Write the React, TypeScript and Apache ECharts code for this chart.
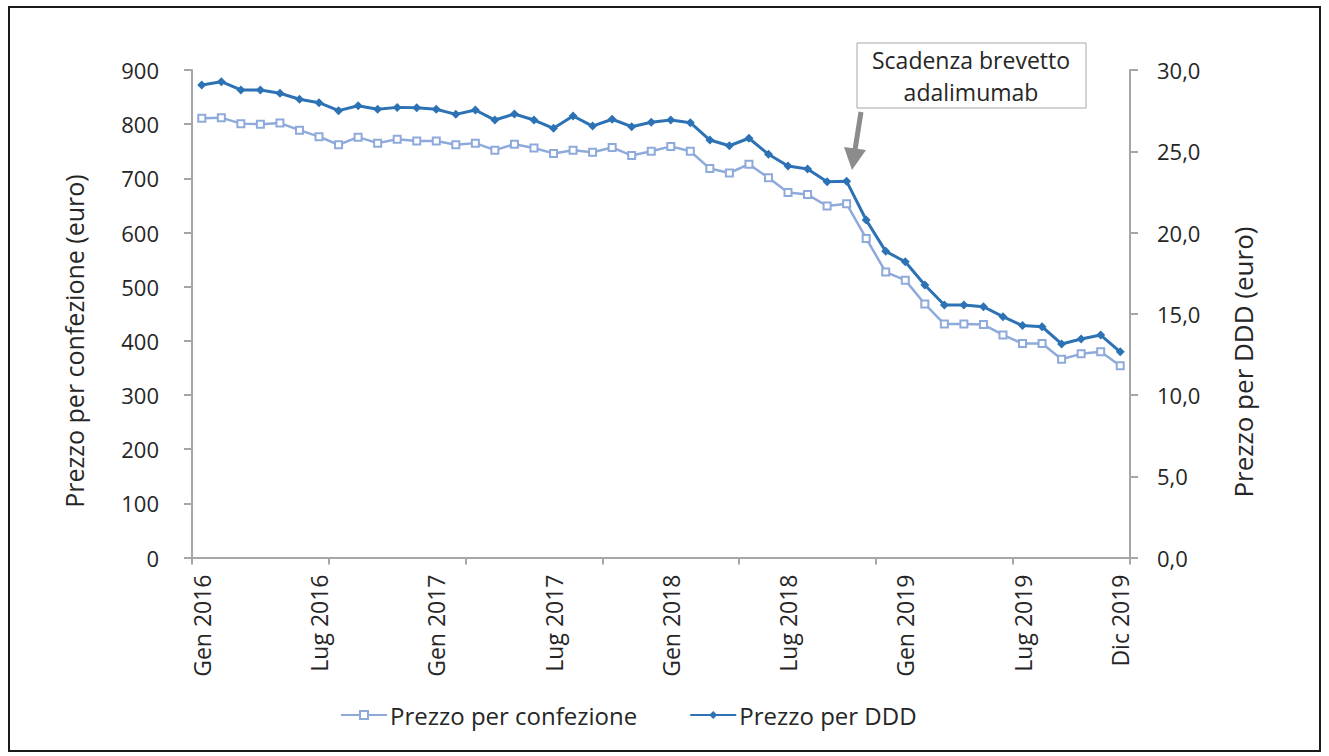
import React, { useEffect, useRef } from "react";
import * as echarts from "echarts";

const monthNames = ["Gen", "Feb", "Mar", "Apr", "Mag", "Giu", "Lug", "Ago", "Set", "Ott", "Nov", "Dic"];
const years = [2016, 2017, 2018, 2019];
const categories: string[] = years.flatMap((y) => monthNames.map((m) => `${m} ${y}`));

const prezzoConfezione = [
  811, 812, 801, 800, 802, 789, 777, 762, 776, 765, 772, 769,
  769, 762, 765, 752, 763, 756, 746, 752, 748, 757, 742, 750,
  759, 750, 718, 710, 726, 701, 674, 670, 649, 653, 589, 527,
  512, 468, 431, 431, 430, 411, 395, 395, 366, 376, 380, 354,
];

const prezzoDDD = [
  29.08, 29.28, 28.77, 28.77, 28.57, 28.2, 27.99, 27.5, 27.8, 27.58, 27.7, 27.68,
  27.58, 27.27, 27.54, 26.92, 27.29, 26.92, 26.41, 27.17, 26.55, 26.97, 26.51, 26.78,
  26.92, 26.76, 25.69, 25.34, 25.8, 24.81, 24.09, 23.91, 23.13, 23.15, 20.77, 18.84,
  18.2, 16.77, 15.54, 15.54, 15.43, 14.82, 14.27, 14.2, 13.14, 13.45, 13.69, 12.66,
];

const leftTitle = "Prezzo per confezione (euro)";
const rightTitle = "Prezzo per DDD (euro)";
const noteLines = ["Scadenza brevetto", "adalimumab"];

const FONT = "Open Sans";
const TXT = "#262626";
const AX = "#a6a6a6";

export default function App() {
  const ref = useRef<HTMLDivElement>(null);
  useEffect(() => {
    if (!ref.current) return;
    const chart = echarts.init(ref.current, undefined, { renderer: "svg" });
    chart.setOption({
      animation: false,
      backgroundColor: "#ffffff",
      textStyle: { fontFamily: FONT },
      grid: { left: 192, right: 199, top: 70, bottom: 198.5, containLabel: false },
      legend: {
        top: 703,
        left: 340,
        padding: 0,
        itemWidth: 46,
        itemHeight: 10,
        itemGap: 52,
        textStyle: { fontFamily: FONT, fontSize: 24, color: TXT, padding: [0, 0, 0, -2] },
        data: ["Prezzo per confezione", "Prezzo per DDD"],
      },
      xAxis: {
        type: "category",
        data: categories,
        boundaryGap: true,
        axisLine: { lineStyle: { color: AX, width: 2 } },
        axisTick: { show: true, interval: 6, length: 7, lineStyle: { color: AX, width: 2 } },
        axisLabel: {
          rotate: 90,
          margin: 17,
          fontSize: 23,
          fontFamily: FONT,
          color: TXT,
          interval: (i: number) => i % 6 === 0 || i === 47,
        },
        splitLine: { show: false },
      },
      yAxis: [
        {
          type: "value",
          min: 0,
          max: 900,
          interval: 100,
          position: "left",
          axisLine: { show: true, lineStyle: { color: AX, width: 2 } },
          axisTick: { show: true, length: 8, lineStyle: { color: AX, width: 2 } },
          axisLabel: { margin: 33, fontSize: 22, fontFamily: FONT, color: TXT },
          splitLine: { show: false },
        },
        {
          type: "value",
          min: 0,
          max: 30,
          interval: 5,
          position: "right",
          axisLine: { show: true, lineStyle: { color: AX, width: 2 } },
          axisTick: { show: true, length: 8, lineStyle: { color: AX, width: 2 } },
          axisLabel: {
            margin: 27,
            fontSize: 22,
            fontFamily: FONT,
            color: TXT,
            formatter: (v: number) => v.toFixed(1).replace(".", ","),
          },
          splitLine: { show: false },
        },
      ],
      series: [
        {
          name: "Prezzo per confezione",
          type: "line",
          yAxisIndex: 0,
          data: prezzoConfezione,
          symbol: "emptyRect",
          symbolSize: 7,
          lineStyle: { color: "#8eaadb", width: 2.5 },
          itemStyle: { color: "#8eaadb", borderColor: "#8eaadb", borderWidth: 1.5 },
        },
        {
          name: "Prezzo per DDD",
          type: "line",
          yAxisIndex: 1,
          data: prezzoDDD,
          symbol: "diamond",
          symbolSize: 9,
          lineStyle: { color: "#2c72b4", width: 3 },
          itemStyle: { color: "#2c72b4" },
        },
      ],
      graphic: [
        {
          type: "rect",
          shape: { x: 9, y: 7, width: 1311, height: 744 },
          style: { fill: "none", stroke: "#1a1a1a", lineWidth: 2 },
          silent: true,
        },
        {
          type: "text",
          x: 74,
          y: 341,
          rotation: Math.PI / 2,
          style: {
            text: leftTitle,
            fontFamily: FONT,
            fontSize: 25,
            fill: TXT,
            align: "center",
            verticalAlign: "middle",
          },
        },
        {
          type: "text",
          x: 1243,
          y: 362,
          rotation: Math.PI / 2,
          style: {
            text: rightTitle,
            fontFamily: FONT,
            fontSize: 26,
            fill: TXT,
            align: "center",
            verticalAlign: "middle",
          },
        },
        {
          type: "rect",
          shape: { x: 857, y: 43, width: 229, height: 65 },
          style: { fill: "#ffffff", stroke: "#a6a6a6", lineWidth: 1 },
          z: 10,
        },
        {
          type: "text",
          x: 971,
          y: 60,
          z: 11,
          style: {
            text: noteLines[0],
            fontFamily: FONT,
            fontSize: 23,
            fill: TXT,
            align: "center",
            verticalAlign: "middle",
          },
        },
        {
          type: "text",
          x: 971,
          y: 92,
          z: 11,
          style: {
            text: noteLines[1],
            fontFamily: FONT,
            fontSize: 23,
            fill: TXT,
            align: "center",
            verticalAlign: "middle",
          },
        },
        {
          type: "line",
          shape: { x1: 861, y1: 112, x2: 855, y2: 150 },
          style: { stroke: "#8c8c8c", lineWidth: 5 },
          z: 10,
        },
        {
          type: "polygon",
          shape: { points: [[844, 147], [866, 150], [852, 170]] },
          style: { fill: "#8c8c8c" },
          z: 10,
        },
      ],
    });
    return () => chart.dispose();
  }, []);
  return (
    <div
      ref={ref}
      style={{ position: "absolute", left: 0, top: 0, width: 1329, height: 756 }}
    />
  );
}
